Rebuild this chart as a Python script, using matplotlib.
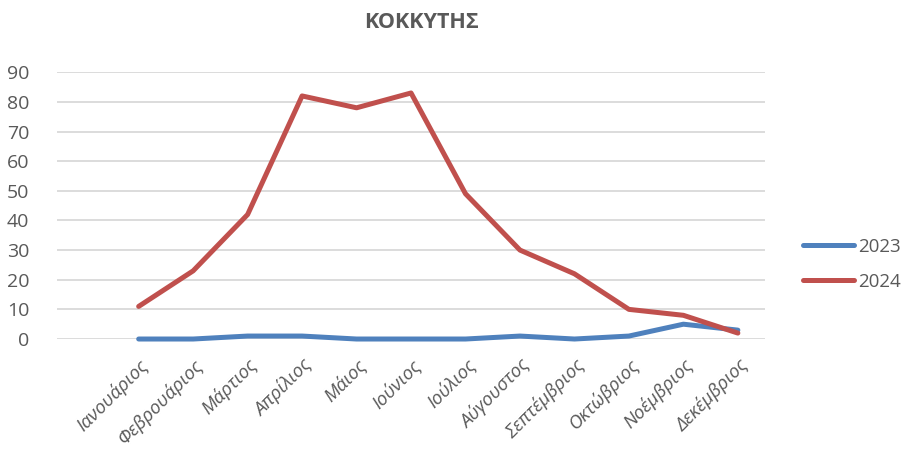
import matplotlib.pyplot as plt

plt.rcParams['font.family'] = ['Open Sans', 'DejaVu Sans']

months = ['Ιανουάριος', 'Φεβρουάριος', 'Μάρτιος', 'Απρίλιος', 'Μάιος', 'Ιούνιος',
          'Ιούλιος', 'Αύγουστος', 'Σεπτέμβριος', 'Οκτώβριος', 'Νοέμβριος', 'Δεκέμβριος']
cases_2023 = [0, 0, 1, 1, 0, 0, 0, 1, 0, 1, 5, 3]
cases_2024 = [11, 23, 42, 82, 78, 83, 49, 30, 22, 10, 8, 2]
yticks = [0, 10, 20, 30, 40, 50, 60, 70, 80, 90]

grey = '#595959'

fig = plt.figure(figsize=(9.13, 4.66), dpi=100)
ax = fig.add_axes([0.0624, 0.2725, 0.7756, 0.5725])

x = list(range(len(months)))
ax.plot(x, cases_2023, color='#4F81BD', lw=3.6, label='2023', solid_capstyle='round',
        solid_joinstyle='round', clip_on=False, zorder=3)
ax.plot(x, cases_2024, color='#C0504D', lw=3.6, label='2024', solid_capstyle='round',
        solid_joinstyle='round', clip_on=False, zorder=3)

# Excel-style: an empty category slot in front of January
ax.set_xlim(-1.5, 11.5)
ax.set_ylim(0, 90)
ax.set_yticks(yticks)
ax.yaxis.grid(True, color='#D9D9D9', lw=1.3)
ax.set_axisbelow(True)
for s in ax.spines.values():
    s.set_visible(False)
ax.tick_params(axis='both', length=0, colors=grey)
ax.tick_params(axis='y', labelsize=14, pad=20)
ax.set_xticks(x)
ax.set_xticklabels(months, rotation=45, ha='right', rotation_mode='anchor',
                   fontsize=13.5, style='italic', color=grey)
ax.tick_params(axis='x', pad=12)

fig.suptitle('ΚΟΚΚΥΤΗΣ', x=0.462, y=0.975, fontsize=15.5, fontweight='bold', color=grey)

leg = fig.legend(loc='center left', bbox_to_anchor=(0.878, 0.433), frameon=False,
                 fontsize=13.5, handlelength=2.7, handletextpad=0.2, labelspacing=0.9,
                 borderpad=0.1, borderaxespad=0.0)
for t in leg.get_texts():
    t.set_color(grey)

fig.savefig('out.png', dpi=100)
